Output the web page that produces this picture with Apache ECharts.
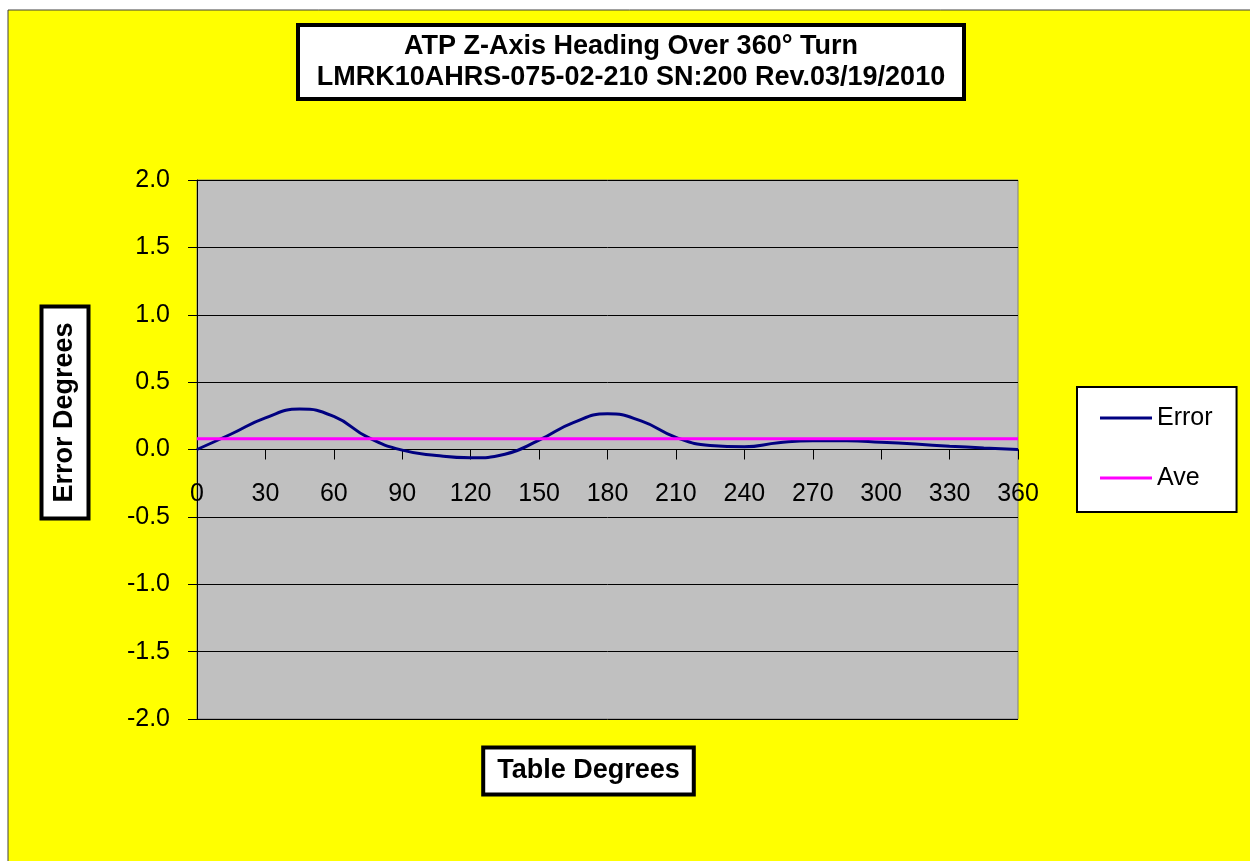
<!DOCTYPE html>
<html>
<head>
<meta charset="utf-8">
<script src="https://cdn.jsdelivr.net/npm/echarts@6/dist/echarts.min.js"></script>
<style>
  html, body { margin: 0; padding: 0; background: #ffffff; }
  #chart { width: 1250px; height: 861px; }
</style>
</head>
<body>
<div id="chart"></div>
<script>
// ---- Data ----
const titleLines = ['ATP Z-Axis Heading Over 360° Turn', 'LMRK10AHRS-075-02-210 SN:200 Rev.03/19/2010'];
const xAxisTitle = 'Table Degrees';
const yAxisTitle = 'Error Degrees';
const seriesNames = ['Error', 'Ave'];
const tableDegrees = [0, 15, 30, 45, 60, 75, 90, 105, 120, 135, 150, 165, 180, 195, 210, 225, 240, 255, 270, 285, 300, 315, 330, 345, 360];
const errorValues = [0.0, 0.115, 0.235, 0.30, 0.245, 0.09, -0.005, -0.045, -0.062, -0.035, 0.07, 0.20, 0.265, 0.21, 0.09, 0.03, 0.02, 0.05, 0.065, 0.065, 0.054, 0.04, 0.025, 0.012, 0.0];
const aveDegrees = [0, 360];
const aveValues = [0.08, 0.08];
const xMin = 0, xMax = 360, xStep = 30;
const yMin = -2, yMax = 2, yStep = 0.5;

const FONT = "'Liberation Sans', Arial, sans-serif";
const chart = echarts.init(document.getElementById('chart'));

const GRID_TOP = 180, GRID_BOTTOM = 142, CH = 861;
// distance from the plot bottom to the zero line, used to lift the x axis onto y = 0
const plotH = CH - GRID_TOP - GRID_BOTTOM;
const zeroLift = plotH * (0 - yMin) / (yMax - yMin);

const option = {
  backgroundColor: '#ffffff',
  animation: false,
  title: {
    text: titleLines.join('\n'),
    left: 612,
    top: 25,
    textAlign: 'center',
    padding: [6, 19, 6, 19],
    backgroundColor: '#ffffff',
    borderColor: '#000000',
    borderWidth: 4,
    textStyle: { fontFamily: FONT, fontSize: 27, fontWeight: 'bold', color: '#000000', lineHeight: 31 }
  },
  legend: {
    orient: 'vertical',
    left: 1077,
    top: 387,
    padding: [18.5, 24, 21.5, 23],
    itemGap: 35,
    itemWidth: 52,
    itemHeight: 3,
    icon: 'rect',
    backgroundColor: '#ffffff',
    borderColor: '#000000',
    borderWidth: 2,
    textStyle: { fontFamily: FONT, fontSize: 25, color: '#000000' },
    data: seriesNames
  },
  grid: {
    left: 197, right: 232, top: GRID_TOP, bottom: GRID_BOTTOM,
    show: true,
    backgroundColor: '#C0C0C0',
    borderColor: '#808080',
    borderWidth: 1,
    containLabel: false,
    outerBoundsMode: 'none'
  },
  xAxis: {
    type: 'value',
    min: xMin, max: xMax, interval: xStep,
    offset: -zeroLift,
    axisLine: { show: true, onZero: false, lineStyle: { color: '#000000', width: 1 } },
    axisTick: { show: true, length: 10, lineStyle: { color: '#000000', width: 1 } },
    axisLabel: { fontFamily: FONT, fontSize: 25, color: '#000000', margin: 32 },
    splitLine: { show: false }
  },
  yAxis: {
    type: 'value',
    min: yMin, max: yMax, interval: yStep,
    axisLine: { show: true, lineStyle: { color: '#000000', width: 1 } },
    axisTick: { show: true, length: 9, lineStyle: { color: '#000000', width: 1 } },
    axisLabel: {
      fontFamily: FONT, fontSize: 25, color: '#000000', margin: 27,
      formatter: function (v) { return v.toFixed(1); }
    },
    splitLine: { show: true, lineStyle: { color: '#000000', width: 1 } }
  },
  series: [
    {
      name: seriesNames[0],
      type: 'line',
      smooth: 0.5,
      symbol: 'none',
      data: tableDegrees.map((d, i) => [d, errorValues[i]]),
      lineStyle: { color: '#000080', width: 3 },
      itemStyle: { color: '#000080' },
      z: 3
    },
    {
      name: seriesNames[1],
      type: 'line',
      symbol: 'none',
      data: aveDegrees.map((d, i) => [d, aveValues[i]]),
      lineStyle: { color: '#FF00FF', width: 3 },
      itemStyle: { color: '#FF00FF' },
      z: 4
    }
  ],
  graphic: [
    {
      type: 'rect',
      z: -100,
      silent: true,
      shape: { x: 8, y: 10, width: 1250, height: 860 },
      style: { fill: '#FFFF00', stroke: '#404040', lineWidth: 1 }
    },
    {
      type: 'text',
      z: 10,
      x: 65, y: 412.5,
      rotation: Math.PI / 2,
      style: {
        text: yAxisTitle,
        align: 'center', verticalAlign: 'middle',
        font: "bold 27px 'Liberation Sans', Arial, sans-serif",
        fill: '#000000',
        backgroundColor: '#ffffff',
        borderColor: '#000000',
        borderWidth: 4,
        padding: [8, 14, 8, 14]
      }
    },
    {
      type: 'text',
      z: 10,
      x: 588.5, y: 771,
      style: {
        text: xAxisTitle,
        align: 'center', verticalAlign: 'middle',
        font: "bold 27px 'Liberation Sans', Arial, sans-serif",
        fill: '#000000',
        backgroundColor: '#ffffff',
        borderColor: '#000000',
        borderWidth: 4,
        padding: [8, 12, 8, 12]
      }
    }
  ]
};
chart.setOption(option);
</script>
</body>
</html>
